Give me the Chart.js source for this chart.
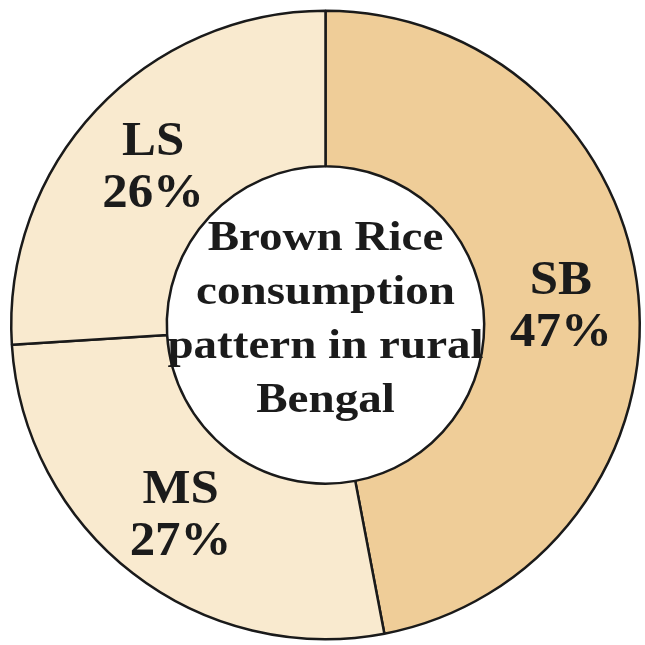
<!DOCTYPE html>
<html>
<head>
<meta charset="utf-8">
<script src="https://cdn.jsdelivr.net/npm/chart.js@4.4.1/dist/chart.umd.min.js"></script>
<style>
  html, body { margin: 0; padding: 0; background: #fff; }
  #wrap { width: 645px; height: 645px; }
</style>
</head>
<body>
<div id="wrap"><canvas id="myChart" width="645" height="645"></canvas></div>
<script>
const labels = ["SB", "MS", "LS"];
const shares = [47, 27, 26];
const sliceColors = ["#efcd98", "#f9eacf", "#f9eacf"];
const centerLines = ["Brown Rice", "consumption", "pattern in rural", "Bengal"];

const serif = '"Liberation Serif", "Times New Roman", serif';

// draws text a bit wider, like the scanned original
const wideText = (ctx, text, x, y, sx) => {
  ctx.save();
  ctx.translate(x, y);
  ctx.scale(sx, 1);
  ctx.fillText(text, 0, 0);
  ctx.restore();
};

const labelPlugin = {
  id: "sliceLabels",
  afterDatasetsDraw(chart) {
    const ctx = chart.ctx;
    const meta = chart.getDatasetMeta(0);
    ctx.save();
    ctx.fillStyle = "#1b1b1b";
    ctx.textAlign = "center";
    ctx.textBaseline = "middle";
    ctx.font = "bold 48px " + serif;
    meta.data.forEach((arc, i) => {
      const pos = arc.tooltipPosition();
      wideText(ctx, labels[i], pos.x, pos.y - 21, 1.06);
      wideText(ctx, shares[i] + "%", pos.x, pos.y + 31, 1.06);
    });

    // text in the hole
    const first = meta.data[0];
    ctx.font = "bold 42px " + serif;
    const lineH = 54;
    const top = first.y - (centerLines.length - 1) * lineH / 2;
    centerLines.forEach((line, i) => {
      wideText(ctx, line, first.x, top + i * lineH - 5, 1.12);
    });
    ctx.restore();
  }
};

new Chart(document.getElementById("myChart"), {
  type: "doughnut",
  data: {
    labels: labels,
    datasets: [{
      data: shares,
      backgroundColor: sliceColors,
      borderColor: "#1a1a1a",
      borderWidth: 2.5,
      hoverOffset: 0
    }]
  },
  options: {
    responsive: false,
    animation: false,
    cutout: "50.5%",
    rotation: 0,
    layout: {
      padding: { left: 10, right: 4, top: 7, bottom: 2 }
    },
    plugins: {
      legend: { display: false },
      tooltip: { enabled: false }
    }
  },
  plugins: [labelPlugin]
});
</script>
</body>
</html>
